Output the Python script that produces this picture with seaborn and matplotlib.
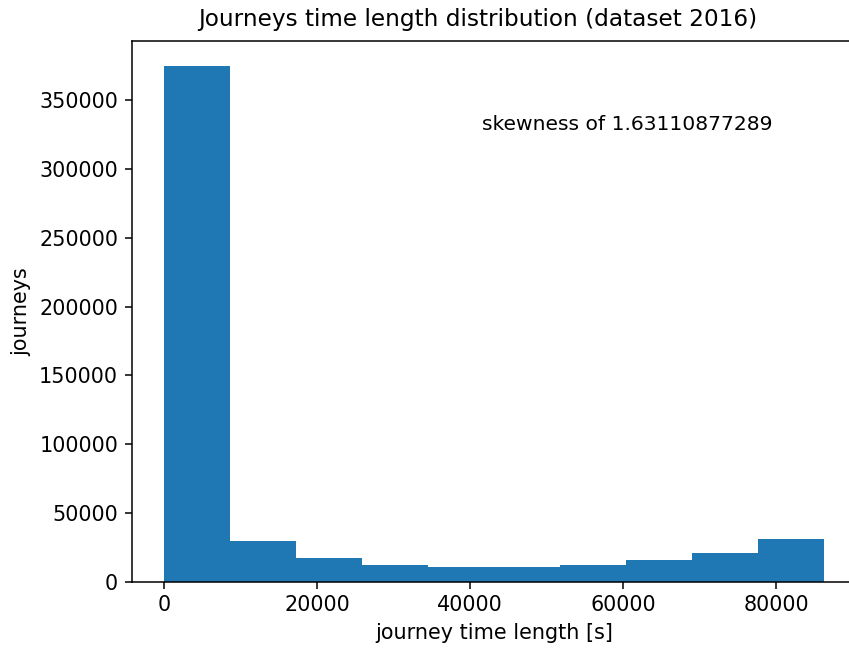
import numpy as np
import pandas as pd
import matplotlib
matplotlib.use("Agg")
import matplotlib.pyplot as plt
import seaborn as sns

# Histogram of journey time lengths (10 bins between 0 and ~86200 s)
bin_min = 0
bin_max = 86226
n_bins = 10
counts = [374500, 29360, 17440, 12100, 10900, 10900, 12100, 15500, 20600, 31250]

title = "Journeys time length distribution (dataset 2016)"
xlabel = "journey time length [s]"
ylabel = "journeys"
annotation = "skewness of 1.63110877289"

edges = np.linspace(bin_min, bin_max, n_bins + 1)
centers = (edges[:-1] + edges[1:]) / 2
df = pd.DataFrame({"length": centers, "count": counts})

dpi = 138
fig = plt.figure(figsize=(849 / dpi, 648 / dpi), dpi=dpi)
ax = fig.add_axes([131.5 / 849, 1 - 581.7 / 648, 725 / 849, (581.7 - 40.7) / 648])

sns.histplot(data=df, x="length", weights="count", bins=n_bins,
             binrange=(bin_min, bin_max), ax=ax,
             color="#1f77b4", alpha=1.0, linewidth=0, edgecolor="none")

fs = 10.8
ax.set_title(title, fontsize=12.1, x=0.477, pad=7.5)
ax.set_xlabel(xlabel, fontsize=fs)
ax.set_ylabel(ylabel, fontsize=fs)
ax.text(41500, 328500, annotation, fontsize=10.6)
ax.margins(x=0.05, y=0.05)
ax.set_xticks([0, 20000, 40000, 60000, 80000])
ax.set_yticks(np.arange(0, 350001, 50000))
ax.tick_params(labelsize=fs)

fig.savefig("out.png", dpi=dpi)
